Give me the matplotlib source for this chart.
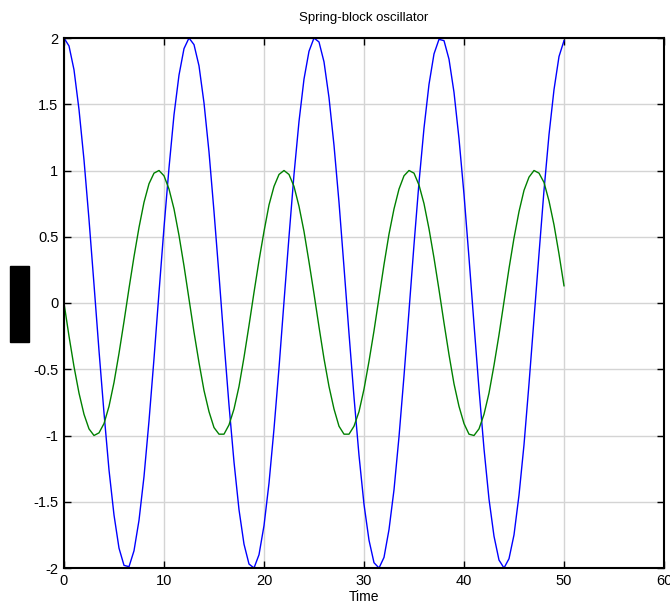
import numpy as np
import matplotlib
matplotlib.use("Agg")
import matplotlib.pyplot as plt
from matplotlib.patches import Rectangle

plt.rcParams['font.family'] = ['Liberation Sans', 'DejaVu Sans']
plt.rcParams['axes.unicode_minus'] = False

time = np.linspace(0, 50, 101)
position = [2.00, 1.94, 1.76, 1.46, 1.08, 0.63, 0.14, -0.36, -0.83, -1.26,
            -1.60, -1.85, -1.98, -1.99, -1.87, -1.64, -1.31, -0.89, -0.42, 0.08,
            0.57, 1.02, 1.42, 1.72, 1.92, 2.00, 1.95, 1.79, 1.51, 1.14,
            0.69, 0.21, -0.29, -0.77, -1.20, -1.56, -1.82, -1.97, -2.00, -1.90,
            -1.68, -1.36, -0.95, -0.49, 0.01, 0.50, 0.97, 1.37, 1.69, 1.90,
            2.00, 1.97, 1.82, 1.55, 1.19, 0.76, 0.27, -0.23, -0.71, -1.15,
            -1.52, -1.79, -1.96, -2.00, -1.92, -1.71, -1.41, -1.01, -0.55, -0.06,
            0.44, 0.91, 1.32, 1.65, 1.88, 1.99, 1.98, 1.84, 1.59, 1.24,
            0.82, 0.34, -0.16, -0.65, -1.10, -1.48, -1.76, -1.94, -2.00, -1.93,
            -1.75, -1.45, -1.07, -0.61, -0.12, 0.37, 0.85, 1.27, 1.61, 1.86,
            1.98]
velocity = [0.00, -0.25, -0.48, -0.68, -0.84, -0.95, -1.00, -0.98, -0.91, -0.78,
            -0.60, -0.38, -0.14, 0.11, 0.35, 0.57, 0.76, 0.90, 0.98, 1.00,
            0.96, 0.86, 0.71, 0.51, 0.28, 0.03, -0.22, -0.45, -0.66, -0.82,
            -0.94, -0.99, -0.99, -0.92, -0.80, -0.63, -0.41, -0.17, 0.08, 0.32,
            0.54, 0.74, 0.88, 0.97, 1.00, 0.97, 0.88, 0.73, 0.54, 0.31,
            0.07, -0.18, -0.42, -0.63, -0.80, -0.93, -0.99, -0.99, -0.93, -0.82,
            -0.65, -0.44, -0.21, 0.04, 0.29, 0.52, 0.71, 0.86, 0.96, 1.00,
            0.98, 0.89, 0.75, 0.56, 0.34, 0.10, -0.15, -0.39, -0.61, -0.78,
            -0.91, -0.99, -1.00, -0.95, -0.84, -0.68, -0.47, -0.24, 0.01, 0.26,
            0.49, 0.69, 0.85, 0.95, 1.00, 0.98, 0.91, 0.77, 0.59, 0.37,
            0.13]
xticks = [0, 10, 20, 30, 40, 50, 60]
yticks = [-2, -1.5, -1, -0.5, 0, 0.5, 1, 1.5, 2]
ytick_labels = ['-2', '-1.5', '-1', '-0.5', '0', '0.5', '1', '1.5', '2']

W, H = 670, 606
fig = plt.figure(figsize=(W / 100, H / 100), dpi=100)
ax = fig.add_axes([64 / W, 1 - 568 / H, 600 / W, 530 / H])

ax.plot(time, position, color='#0000ff', lw=1.0)
ax.plot(time, velocity, color='#008000', lw=1.0)

ax.set_xlim(0, 60)
ax.set_ylim(-2, 2)
ax.set_xticks(xticks)
ax.set_xticklabels([str(v) for v in xticks])
ax.set_yticks(yticks)
ax.set_yticklabels(ytick_labels)
ax.grid(True, color='#d4d4d4', lw=1.0)
ax.set_axisbelow(True)
ax.tick_params(direction='in', length=5, width=1.0, labelsize=10.5,
               top=True, right=True, colors='black', pad=4)
for s in ax.spines.values():
    s.set_linewidth(1.5)
    s.set_color('black')

ax.set_title('Spring-block oscillator', fontsize=9.5, pad=12)
ax.set_xlabel('Time', fontsize=10, labelpad=2)

fig.patches.append(Rectangle((10 / W, 1 - 342 / H), 19 / W, 76 / H,
                             transform=fig.transFigure, color='black'))

fig.savefig('out.png', dpi=100)
